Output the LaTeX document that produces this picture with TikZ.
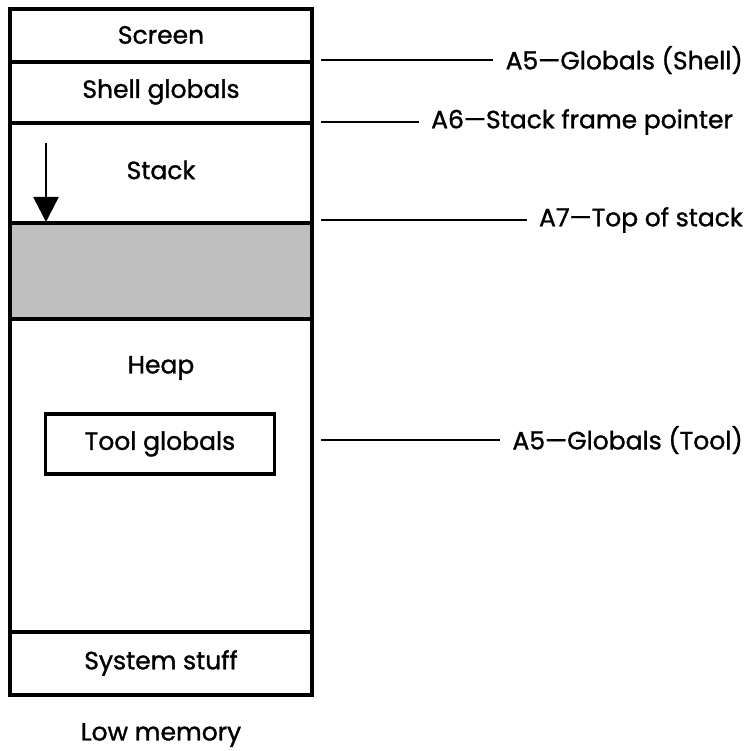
\documentclass[tikz,border=0pt]{standalone}
\usepackage{fontspec}
\setmainfont{Poppins}[FakeBold=1.2]
\usetikzlibrary{arrows.meta}

\tikzset{
  mem/.style={line width=3.4pt},
  txt/.style={font=\fontsize{25}{28}\selectfont, inner sep=0pt},
  reg/.style={txt, anchor=east, inner sep=0pt},
  tick/.style={line width=2.6pt},
}

\begin{document}
\begin{tikzpicture}[x=1pt,y=-1pt]
\useasboundingbox (0,0) rectangle (751,751);
% memory column
\coordinate (TL) at (10,9);
\coordinate (BR) at (312,695);
\fill[gray!50] (10,223) rectangle (312,319);
\foreach \y in {62,123,223,319,632}
{\draw[mem] (10,\y) -- (312,\y);}
\draw[mem] (TL) rectangle (BR);
\foreach \n/\y/\t in {scr/35/Screen,shg/92/Shell globals,stk/170/Stack,hp/368/Heap,sys/663/System stuff,low/735/Low memory}
{\node[txt] (\n) at (161,\y) {\t};}
\node[txt, draw, mem, minimum width=229pt, minimum height=60pt] (tool) at (160,444) {Tool globals};
% stack grows down
\coordinate (sp) at (46,143);
\coordinate (st) at (46,222);
\draw[line width=2.4pt, -{Triangle[width=25pt,length=25pt]}] (sp) -- (st);
% registers
\foreach \c/\x/\y in {r1/743/60,r2/733/122,r3/743/220,r4/743/440}
{\coordinate (\c) at (\x,\y);}
\foreach \c/\y in {l1/60,l2/122,l3/220,l4/440}
{\coordinate (\c) at (321,\y);}
\node[reg] (a5s) at (r1) {A5—Globals (Shell)};
\node[reg] (a6) at (r2) {A6—Stack frame pointer};
\node[reg] (a7) at (r3) {A7—Top of stack};
\node[reg] (a5t) at (r4) {A5—Globals (Tool)};
\foreach \l/\r in {l1/a5s,l2/a6,l3/a7,l4/a5t}
{\draw[tick, shorten >=12pt] (\l) -- (\r.west);}
\end{tikzpicture}
\end{document}
